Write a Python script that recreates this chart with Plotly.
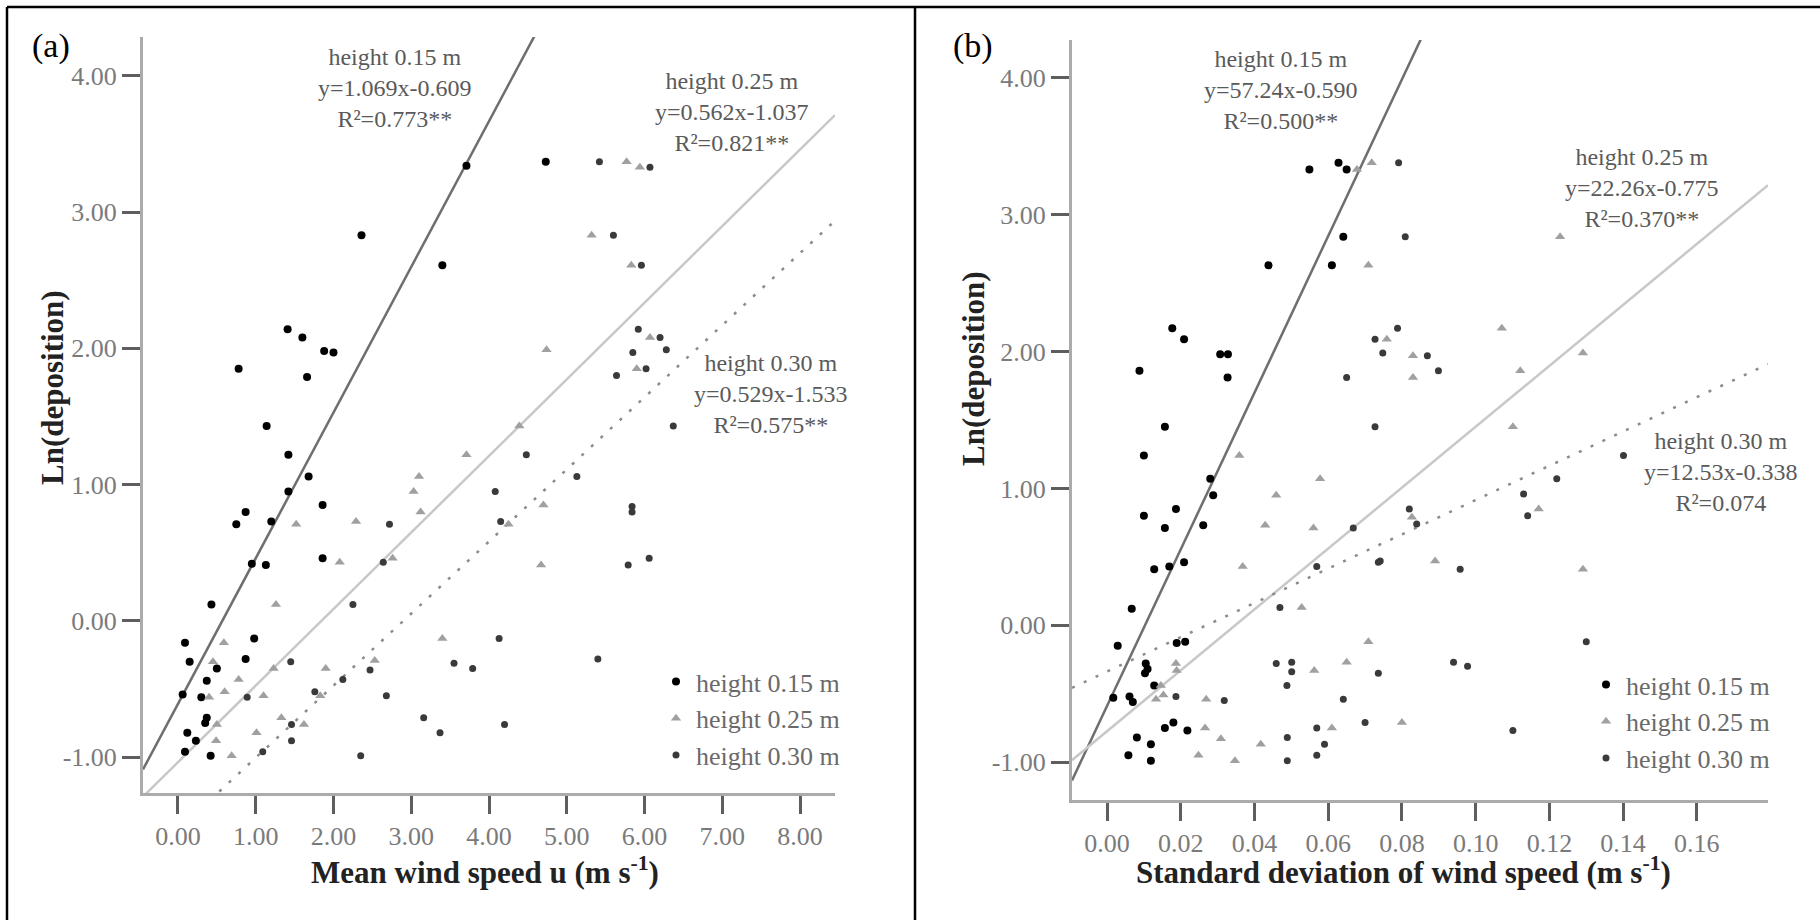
import numpy as np
import plotly.graph_objects as go

# ---------------- data ----------------
series_names = ["height 0.15 m", "height 0.25 m", "height 0.30 m"]

# panel (a): mean wind speed vs Ln(deposition)
a15_x = [3.71, 4.73, 2.36, 3.40, 1.41, 1.60, 1.88, 2.00, 0.78, 1.66, 1.14, 1.42, 1.68, 1.42, 1.86, 0.87, 0.75, 1.20,
         1.86, 0.95, 1.13, 0.43, 0.09, 0.98, 0.15, 0.50, 0.87, 0.37, 0.06, 0.30, 0.37, 0.35, 0.12, 0.23, 0.09, 0.42]
a15_y = [3.34, 3.37, 2.83, 2.61, 2.14, 2.08, 1.98, 1.97, 1.85, 1.79, 1.43, 1.22, 1.06, 0.95, 0.85, 0.80, 0.71, 0.73,
         0.46, 0.42, 0.41, 0.12, -0.16, -0.13, -0.30, -0.35, -0.28, -0.44, -0.54, -0.56, -0.71, -0.75, -0.82, -0.88,
         -0.96, -0.99]
a25_x = [5.77, 5.94, 5.32, 5.83, 6.07, 4.74, 5.90, 4.39, 3.71, 3.10, 3.03, 4.70, 3.12, 1.52, 2.29, 4.25, 2.08, 2.76,
         4.67, 1.26, 0.59, 3.40, 0.45, 1.23, 2.53, 1.90, 0.78, 0.40, 0.60, 1.10, 1.83, 0.50, 1.33, 1.62, 0.49, 1.01, 0.69]
a25_y = [3.37, 3.33, 2.83, 2.61, 2.08, 1.99, 1.85, 1.43, 1.22, 1.06, 0.95, 0.85, 0.80, 0.71, 0.73, 0.71, 0.43, 0.46,
         0.41, 0.12, -0.16, -0.13, -0.30, -0.35, -0.29, -0.35, -0.43, -0.56, -0.52, -0.55, -0.55, -0.76, -0.71, -0.76,
         -0.88, -0.82, -0.99]
a30_x = [5.42, 6.07, 5.60, 5.96, 5.92, 6.20, 5.85, 6.28, 6.02, 5.64, 6.37, 4.48, 5.13, 4.08, 5.84, 5.84, 2.72, 4.15,
         2.64, 5.79, 6.06, 2.25, 4.13, 1.45, 2.47, 3.55, 3.79, 5.40, 2.12, 0.89, 1.76, 2.68, 1.46, 3.16, 4.20, 1.46, 3.37,
         1.09, 2.35]
a30_y = [3.37, 3.33, 2.83, 2.61, 2.14, 2.08, 1.97, 1.99, 1.85, 1.80, 1.43, 1.22, 1.06, 0.95, 0.84, 0.80, 0.71, 0.73,
         0.43, 0.41, 0.46, 0.12, -0.13, -0.30, -0.36, -0.31, -0.35, -0.28, -0.43, -0.56, -0.52, -0.55, -0.76, -0.71,
         -0.76, -0.88, -0.82, -0.96, -0.99]

# panel (b): standard deviation of wind speed vs Ln(deposition)
b15_x = [0.0549, 0.0628, 0.0650, 0.0641, 0.0438, 0.0610, 0.0177, 0.0209, 0.0307, 0.0328, 0.0088, 0.0327, 0.0157,
         0.0100, 0.0280, 0.0288, 0.0100, 0.0187, 0.0157, 0.0261, 0.0128, 0.0169, 0.0209, 0.0067, 0.0029, 0.0189,
         0.0212, 0.0105, 0.0110, 0.0103, 0.0128, 0.0017, 0.0061, 0.0070, 0.0180, 0.0157, 0.0218, 0.0081, 0.0119,
         0.0058, 0.0119]
b15_y = [3.33, 3.38, 3.33, 2.84, 2.63, 2.63, 2.17, 2.09, 1.98, 1.98, 1.86, 1.81, 1.45, 1.24, 1.07, 0.95, 0.80, 0.85,
         0.71, 0.73, 0.41, 0.43, 0.46, 0.12, -0.15, -0.13, -0.12, -0.28, -0.32, -0.35, -0.44, -0.53, -0.52, -0.56,
         -0.71, -0.75, -0.77, -0.82, -0.87, -0.95, -0.99]
b25_x = [0.0678, 0.0718, 0.0709, 0.1229, 0.0759, 0.0830, 0.0830, 0.1071, 0.1121, 0.1291, 0.1101, 0.0359, 0.0578,
         0.0459, 0.0429, 0.0560, 0.0368, 0.0528, 0.0709, 0.0187, 0.0189, 0.0562, 0.0650, 0.0146, 0.0133, 0.0153,
         0.0269, 0.0266, 0.0309, 0.0610, 0.0417, 0.0248, 0.0347, 0.1171, 0.0827, 0.0890, 0.1291, 0.0800]
b25_y = [3.33, 3.38, 2.63, 2.84, 2.09, 1.97, 1.81, 2.17, 1.86, 1.99, 1.45, 1.24, 1.07, 0.95, 0.73, 0.71, 0.43, 0.13,
         -0.12, -0.28, -0.33, -0.33, -0.27, -0.44, -0.54, -0.51, -0.54, -0.75, -0.83, -0.75, -0.87, -0.95, -0.99,
         0.85, 0.79, 0.47, 0.41, -0.71]
b30_x = [0.0791, 0.0809, 0.0727, 0.0650, 0.0727, 0.0788, 0.0748, 0.0869, 0.0899, 0.1401, 0.0668, 0.0569, 0.0736,
         0.0469, 0.0459, 0.0501, 0.0501, 0.0736, 0.0488, 0.0187, 0.0318, 0.0641, 0.0569, 0.0700, 0.0489, 0.0590,
         0.0489, 0.0569, 0.1220, 0.1130, 0.1141, 0.0820, 0.0840, 0.0741, 0.0958, 0.1300, 0.0940, 0.0978, 0.1101]
b30_y = [3.38, 2.84, 2.09, 1.81, 1.45, 2.17, 1.99, 1.97, 1.86, 1.24, 0.71, 0.43, 0.46, 0.13, -0.28, -0.27, -0.34,
         -0.35, -0.44, -0.52, -0.55, -0.54, -0.75, -0.71, -0.82, -0.87, -0.99, -0.95, 1.07, 0.96, 0.80, 0.85, 0.74,
         0.47, 0.41, -0.12, -0.27, -0.30, -0.77]

# regression coefficients (slope, intercept) and labels
a_slopes = [1.069, 0.562, 0.529]
a_intercepts = [-0.609, -1.037, -1.533]
a_eq = ["y=1.069x-0.609", "y=0.562x-1.037", "y=0.529x-1.533"]
a_r2 = ["R²=0.773**", "R²=0.821**", "R²=0.575**"]
b_slopes = [57.24, 22.26, 12.53]
b_intercepts = [-0.590, -0.775, -0.338]
b_eq = ["y=57.24x-0.590", "y=22.26x-0.775", "y=12.53x-0.338"]
b_r2 = ["R²=0.500**", "R²=0.370**", "R²=0.074"]

y_tickvals = [-1, 0, 1, 2, 3, 4]
y_ticktext = ["-1.00", "0.00", "1.00", "2.00", "3.00", "4.00"]
a_xtickvals = [0, 1, 2, 3, 4, 5, 6, 7, 8]
a_xticktext = ["0.00", "1.00", "2.00", "3.00", "4.00", "5.00", "6.00", "7.00", "8.00"]
b_xtickvals = [0, 0.02, 0.04, 0.06, 0.08, 0.10, 0.12, 0.14, 0.16]
b_xticktext = ["0.00", "0.02", "0.04", "0.06", "0.08", "0.10", "0.12", "0.14", "0.16"]

# ---------------- style ----------------
W, H = 1820, 920
SERIF = "Liberation Serif, Times New Roman, DejaVu Serif, serif"
a_xrange = [-0.45, 8.45]
a_yrange = [-1.263, 4.285]
b_xrange = [-0.0095, 0.1793]
b_yrange = [-1.277, 4.277]

marker_styles = [
    dict(symbol="circle", size=8, color="#000000"),
    dict(symbol="triangle-up", size=9, color="#a0a0a0"),
    dict(symbol="circle", size=7, color="#3a3a3a"),
]
line_styles = [
    dict(color="#6e6e6e", width=2.5, dash="solid"),
    dict(color="#c8c8c8", width=2.5, dash="solid"),
    dict(color="#8c8c8c", width=2.5, dash="3px,10px"),
]


def px_x(p):
    return p / W


def px_y(p):
    return 1 - p / H


fig = go.Figure()

panels = [
    ("x", "y", "legend", [(a15_x, a15_y), (a25_x, a25_y), (a30_x, a30_y)], a_slopes, a_intercepts, a_xrange),
    ("x2", "y2", "legend2", [(b15_x, b15_y), (b25_x, b25_y), (b30_x, b30_y)], b_slopes, b_intercepts, b_xrange),
]
for xa, ya, leg, pts, slopes, inters, xr in panels:
    # regression lines first (below markers)
    for i in range(3):
        lx = np.array(xr)
        ly = slopes[i] * lx + inters[i]
        fig.add_trace(go.Scatter(x=lx, y=ly, mode="lines", line=line_styles[i], xaxis=xa, yaxis=ya,
                                 showlegend=False, hoverinfo="skip"))
    for i in range(3):
        fig.add_trace(go.Scatter(x=pts[i][0], y=pts[i][1], mode="markers", marker=marker_styles[i],
                                 name=series_names[i], xaxis=xa, yaxis=ya, legend=leg))

axis_common = dict(showline=True, linecolor="#ababab", linewidth=3, ticks="outside", ticklen=18, tickwidth=3,
                   tickcolor="#5e5e5e", showgrid=False, zeroline=False,
                   tickfont=dict(family=SERIF, size=26, color="#7a7a7a"))

fig.update_layout(
    width=W, height=H, autosize=False,
    margin=dict(l=0, r=0, t=0, b=0),
    paper_bgcolor="white", plot_bgcolor="white",
    xaxis=dict(domain=[px_x(143), px_x(835)], range=a_xrange, anchor="y", tickvals=a_xtickvals,
               ticktext=a_xticktext, **axis_common),
    yaxis=dict(domain=[px_y(793), px_y(37)], range=a_yrange, anchor="x", tickvals=y_tickvals,
               ticktext=y_ticktext, **axis_common),
    xaxis2=dict(domain=[px_x(1072), px_x(1768)], range=b_xrange, anchor="y2", tickvals=b_xtickvals,
                ticktext=b_xticktext, **axis_common),
    yaxis2=dict(domain=[px_y(800), px_y(40)], range=b_yrange, anchor="x2", tickvals=y_tickvals,
                ticktext=y_ticktext, **axis_common),
    legend=dict(x=px_x(656), y=px_y(658), xanchor="left", yanchor="top", bgcolor="rgba(0,0,0,0)",
                font=dict(family=SERIF, size=26, color="#6a6a6a"), itemclick=False),
    legend2=dict(x=px_x(1586), y=px_y(661), xanchor="left", yanchor="top", bgcolor="rgba(0,0,0,0)",
                 font=dict(family=SERIF, size=26, color="#6a6a6a"), itemclick=False),
    showlegend=True,
)

# frame lines
shapes = []
for (x0, y0, x1, y1) in [(7, 7, W, 7), (7, 7, 7, H), (915, 7, 915, H)]:
    shapes.append(dict(type="line", xref="paper", yref="paper", x0=px_x(x0), y0=px_y(y0), x1=px_x(x1),
                       y1=px_y(y1), line=dict(color="black", width=2.5)))
fig.update_layout(shapes=shapes)

ann = []


def text(x, y, s, size, color, angle=0):
    ann.append(dict(x=px_x(x), y=px_y(y), xref="paper", yref="paper", text=s, showarrow=False,
                    xanchor="center", yanchor="middle", textangle=angle,
                    font=dict(family=SERIF, size=size, color=color)))


# panel labels
text(51, 46, "(a)", 34, "#000000")
text(973, 46, "(b)", 34, "#000000")

# axis titles
text(485, 870, "<b>Mean wind speed u (m s<sup>-1</sup>)</b>", 31, "#222222")
text(52, 388, "<b>Ln(deposition)</b>", 31, "#222222", angle=-90)
text(1403, 870, "<b>Standard deviation of wind speed (m s<sup>-1</sup>)</b>", 31, "#222222")
text(973, 369, "<b>Ln(deposition)</b>", 31, "#222222", angle=-90)

# regression labels (one three-line block each, centred on the middle line)
a_lab_pos = [(395, 88), (732, 112), (771, 394)]
b_lab_pos = [(1281, 90), (1642, 188), (1721, 472)]
for pos, eqs, r2s in [(a_lab_pos, a_eq, a_r2), (b_lab_pos, b_eq, b_r2)]:
    for i in range(3):
        cx, cy = pos[i]
        block = "<br>".join([series_names[i], eqs[i], r2s[i]])
        text(cx, cy, block, 24, "#5a5a5a")

fig.update_layout(annotations=ann)

fig.write_html("out.html")
